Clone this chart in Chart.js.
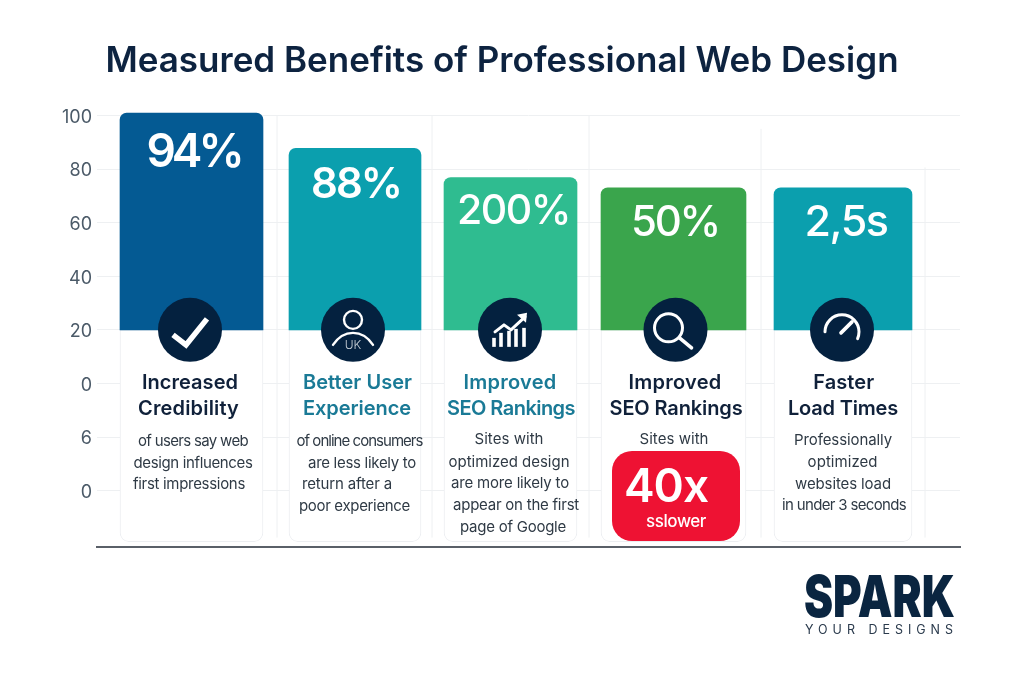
<!DOCTYPE html>
<html><head><meta charset="utf-8">
<style>html,body{margin:0;padding:0;background:#fff}canvas{display:block}</style>
<script src="https://cdn.jsdelivr.net/npm/chart.js@4/dist/chart.umd.min.js"></script>
</head><body><canvas id="c" width="1024" height="683"></canvas>
<script>
const chartTitle = 'Measured Benefits of Professional Web Design';
const categories = ['Increased Credibility','Better User Experience','Improved SEO Rankings','Improved SEO Rankings','Faster Load Times'];
const barTops = [100.9, 87.7, 76.8, 73, 73];
const barBase = 20;
const cardFloor = -59;
const valueLabels = ['94%','88%','200%','50%','2,5s'];
const tickValues = [100,80,60,40,20,0,-20,-40];
const tickLabels = ['100','80','60','40','20','0','6','0'];
const barColors = ['#045a93','#0b9fae','#2fbc90','#3aa54c','#0b9fae'];

// layout (x scale units equal canvas pixels)
const barCenters = [191.5,355,510.5,673.5,843];
const barWidths = [143,132,133,145,138];
const iconX = [190,353,510,675.5,842];
const valueStyle = [[193.5,153,46,600,94],[356,185,42,600,90],[513.5,212,41,500,113],[675,223,42,500,88],[846,223,43,500,83]];
const DARK='#10213a', TEAL='#1a7a96', BODY='#2f3a45';
const textLines = [
 ['Increased',190,383,20,600,DARK,96],['Credibility',188.5,409,20,600,DARK,101],
 ['of users say web',193,441,15,400,BODY,110],['design influences',193,463,15,400,BODY,119],['first impressions',189,484,15,400,BODY,112],
 ['Better User',357.5,383,20,600,TEAL,109],['Experience',357,409,20,600,TEAL,108],
 ['of online consumers',359.5,441,15,400,BODY,126],['are less likely to',362,463,15,400,BODY,108],['return after a',347,484,15,400,BODY,90],['poor experience',354.5,506,15,400,BODY,111],
 ['Improved',510,383,20,600,TEAL,93],['SEO Rankings',511,409,20,600,TEAL,128],
 ['Sites with',509,439,15,400,BODY,69],['optimized design',509,462,15,400,BODY,121],['are more likely to',510,483,15,400,BODY,118],['appear on the first',516,505,15,400,BODY,126],['page of Google',513,527,15,400,BODY,106],
 ['Improved',675,383,20,600,DARK,93],['SEO Rankings',676,409,20,600,DARK,133],['Sites with',674,439,15,400,BODY,69],
 ['Faster',843.7,383,20,600,DARK,61],['Load Times',843,409,20,600,DARK,110],
 ['Professionally',843,440,15,400,BODY,98],['optimized',842.6,462,15,400,BODY,70],['websites load',843,484,15,400,BODY,96],['in under 3 seconds',844,505,15,400,BODY,124]
];
const vRules = [[277,100],[432,100],[589,100],[761,95],[925,80.6]];
const ruleFloor = -57.5;

const datasets = [];
barTops.forEach((top,i)=>{
  datasets.push({label:categories[i],data:[{x:barCenters[i],y:[barBase,top]}],backgroundColor:barColors[i],barThickness:barWidths[i],
    borderWidth:0,borderSkipped:false,borderRadius:{topLeft:7,topRight:7,bottomLeft:0,bottomRight:0},order:1});
  datasets.push({label:categories[i]+' card',data:[{x:barCenters[i],y:[barBase,cardFloor]}],backgroundColor:'#ffffff',borderColor:'#eceef1',barThickness:barWidths[i],
    borderWidth:1,borderSkipped:false,borderRadius:{topLeft:0,topRight:0,bottomLeft:9,bottomRight:9},order:2});
});

// draw text at its natural glyph size, tracked to the width
function fitText(c,t,x,y,w){
  c.letterSpacing='0px';
  const n=c.measureText(t).width;
  c.letterSpacing=((w-n)/t.length).toFixed(3)+'px';
  c.fillText(t,x,y);
  c.letterSpacing='0px';
}

function drawIcon(c,i,cx,cy){
  c.strokeStyle='#fff';c.fillStyle='#fff';c.lineCap='round';c.lineJoin='round';
  const L=(pts,w)=>{c.lineWidth=w;c.beginPath();pts.forEach((p,k)=>k?c.lineTo(cx+p[0],cy+p[1]):c.moveTo(cx+p[0],cy+p[1]));c.stroke();};
  if(i===0){c.lineCap='butt';c.lineJoin='miter';L([[-17,5],[-4,15],[17,-11]],5.5);}
  if(i===1){
    c.lineWidth=2.4;c.beginPath();c.arc(cx,cy-10,9,0,Math.PI*2);c.stroke();
    c.beginPath();c.moveTo(cx-20,cy+15);c.quadraticCurveTo(cx-12,cy+3,cx,cy+3);c.quadraticCurveTo(cx+12,cy+3,cx+20,cy+15);c.stroke();
    c.font='300 12px Inter';c.fillStyle='#c9d1d8';c.textAlign='center';c.textBaseline='middle';c.fillText('UK',cx,cy+16);
  }
  if(i===2){
    c.lineCap='butt';
    [[-16,8],[-9,3],[-1,1],[6,-1],[14,-2]].forEach(b=>L([[b[0],b[1]],[b[0],17]],3.6));
    c.lineCap='round';L([[-15,2],[-6,-5],[1,0],[15,-13]],3);
    c.beginPath();c.moveTo(cx+7,cy-15);c.lineTo(cx+17,cy-17);c.lineTo(cx+16,cy-7);c.closePath();c.fill();
  }
  if(i===3){
    c.lineWidth=3;c.beginPath();c.arc(cx-7,cy-2,14,0,Math.PI*2);c.stroke();
    L([[4,8],[16,18]],3.6);
  }
  if(i===4){
    c.lineWidth=3;c.beginPath();c.arc(cx,cy+2,17,Math.PI,Math.PI*0.13,false);c.stroke();
    L([[-1,3],[10,-8]],3.6);
  }
}

const lowerLayer = {id:'lowerLayer',beforeDatasetsDraw(ch){
  const {ctx:c,scales:{x,y}}=ch;c.save();c.strokeStyle='#eef0f2';c.lineWidth=1;
  vRules.forEach(r=>{const px=x.getPixelForValue(r[0]);c.beginPath();c.moveTo(px,y.getPixelForValue(r[1]));c.lineTo(px,y.getPixelForValue(ruleFloor));c.stroke();});
  c.restore();
}};
const annotations = {id:'annotations',afterDatasetsDraw(ch){
  const {ctx:c,scales:{x,y}}=ch;c.save();
  c.textAlign='center';c.textBaseline='middle';
  valueLabels.forEach((t,i)=>{const s=valueStyle[i];c.font=`${s[3]} ${s[2]}px Inter`;c.fillStyle='#fff';fitText(c,t,x.getPixelForValue(s[0]),s[1],s[4]);});
  iconX.forEach((ix,i)=>{const px=x.getPixelForValue(ix),py=y.getPixelForValue(barBase);
    c.fillStyle='#04213f';c.beginPath();c.arc(px,py,32,0,Math.PI*2);c.fill();drawIcon(c,i,px,py);
    c.textAlign='center';c.textBaseline='middle';});
  textLines.forEach(l=>{c.font=`${l[4]} ${l[3]}px Inter`;c.fillStyle=l[5];fitText(c,l[0],x.getPixelForValue(l[1]),l[2],l[6]);});
  // red badge
  c.fillStyle='#ee1233';c.beginPath();c.roundRect(x.getPixelForValue(612),451,128,90,20);c.fill();
  c.fillStyle='#fff';c.font='600 46px Inter';fitText(c,'40x',x.getPixelForValue(666),488,84);
  c.font='500 17px Inter';fitText(c,'sslower',x.getPixelForValue(676),522,60);
  // logo
  c.fillStyle='#0a2540';c.font='900 58px Inter';c.textAlign='left';c.textBaseline='alphabetic';
  c.fillText('SPARK',804,617,151);
  c.font='400 12.5px Inter';c.fillStyle='#2a3a4c';fitText(c,'YOUR DESIGNS',805,634,153);
  c.restore();
}};

new Chart(document.getElementById('c'),{
  type:'bar',
  data:{datasets},
  plugins:[lowerLayer,annotations],
  options:{
    responsive:false,animation:false,events:[],
    layout:{padding:{left:44,right:64,top:0,bottom:136}},
    datasets:{bar:{grouped:false}},
    plugins:{legend:{display:false},tooltip:{enabled:false},
      title:{display:true,text:chartTitle,color:'#0d2340',font:{family:'Inter',size:35,weight:'600',lineHeight:1.2},padding:{top:40,bottom:20}}},
    scales:{
      x:{type:'linear',min:97,max:960,offset:false,
        grid:{display:false},ticks:{display:false},
        border:{color:'#5a6068',width:2},
        afterFit(s){s.height=0;}},
      y:{type:'linear',min:-61,max:105,
        afterBuildTicks(s){s.ticks=tickValues.map(v=>({value:v}));},
        grid:{color:'#eef0f2',lineWidth:1,drawTicks:false},
        border:{display:false},
        ticks:{padding:5,labelOffset:2,color:'#4b5a68',font:{family:'Inter',size:18},autoSkip:false,
          callback(v){const k=tickValues.indexOf(v);return k>=0?tickLabels[k]:'';}},
        afterFit(s){s.width=53;}}
    }
  }
});
</script></body></html>
